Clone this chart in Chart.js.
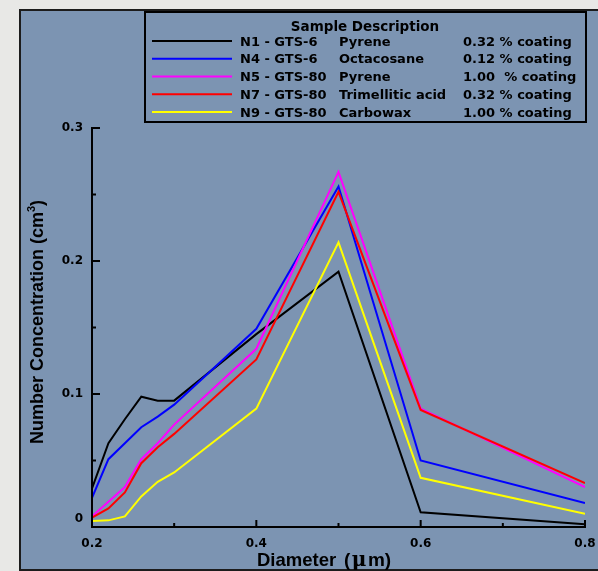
<!DOCTYPE html>
<html>
<head>
<meta charset="utf-8">
<script src="https://cdn.jsdelivr.net/npm/chart.js@4"></script>
<style>
  html, body { margin: 0; padding: 0; background: #e8e8e6; }
  #wrap { width: 598px; height: 571px; position: relative; }
</style>
</head>
<body>
<div id="wrap"><canvas id="c" width="598" height="571"></canvas></div>
<script>
// ---- data ----
const diameters = [0.2, 0.22, 0.24, 0.26, 0.28, 0.3, 0.4, 0.5, 0.6, 0.8];
const n1Pyrene      = [0.029, 0.063, 0.081, 0.098, 0.095, 0.095, 0.145, 0.192, 0.011, 0.002];
const n4Octacosane  = [0.022, 0.051, 0.063, 0.075, 0.083, 0.092, 0.149, 0.256, 0.050, 0.018];
const n5Pyrene      = [0.008, 0.019, 0.030, 0.051, 0.063, 0.077, 0.134, 0.267, 0.089, 0.030];
const n7Trimellitic = [0.007, 0.014, 0.026, 0.048, 0.060, 0.070, 0.126, 0.252, 0.088, 0.033];
const n9Carbowax    = [0.0045, 0.005, 0.008, 0.023, 0.034, 0.041, 0.089, 0.214, 0.037, 0.010];

const sampleIds    = ['N1 - GTS-6', 'N4 - GTS-6', 'N5 - GTS-80', 'N7 - GTS-80', 'N9 - GTS-80'];
const coatingNames = ['Pyrene', 'Octacosane', 'Pyrene', 'Trimellitic acid', 'Carbowax'];
const coatingLevels = ['0.32 % coating', '0.12 % coating', '1.00  % coating', '0.32 % coating', '1.00 % coating'];
const seriesColors = ['#000000', '#0000ff', '#ff00ff', '#ff0000', '#ffff00'];
const seriesValues = [n1Pyrene, n4Octacosane, n5Pyrene, n7Trimellitic, n9Carbowax];
const drawOrder = [4, 3, 2, 1, 0];

const xMajorTicks = [0.2, 0.4, 0.6, 0.8];
const xMinorTicks = [0.3, 0.5, 0.7];
const yMajorTicks = [0, 0.1, 0.2, 0.3];
const yMinorTicks = [0.05, 0.15, 0.25];

const legendTitle = 'Sample Description';
const xTitleMain = 'Diameter';
const xTitleParts = ['(', '\u03bc', 'm)'];
const yTitleMain = 'Number Concentration (cm';
const yTitleSup = '3';
const yTitleEnd = ')';

const datasets = seriesValues.map((vals, i) => ({
  label: sampleIds[i] + ' ' + coatingNames[i] + ' ' + coatingLevels[i],
  data: diameters.map((d, j) => ({ x: d, y: vals[j] })),
  borderColor: seriesColors[i],
  backgroundColor: seriesColors[i],
  borderWidth: 2,
  pointRadius: 0,
  tension: 0,
  fill: false,
  order: drawOrder[i]
}));

const PANEL = '#7c94b2';
const TICKFONT = 'bold 12px "DejaVu Sans"';

const decor = {
  id: 'decor',
  beforeDraw(chart) {
    const ctx = chart.ctx;
    ctx.save();
    ctx.fillStyle = '#e8e8e6';
    ctx.fillRect(0, 0, chart.width, chart.height);
    ctx.fillStyle = PANEL;
    ctx.fillRect(20, 10, chart.width - 20, chart.height - 11);
    ctx.strokeStyle = '#1c1c1c';
    ctx.lineWidth = 2;
    ctx.beginPath();
    ctx.moveTo(chart.width + 2, 10);
    ctx.lineTo(20, 10);
    ctx.lineTo(20, chart.height - 1);
    ctx.lineTo(chart.width + 2, chart.height - 1);
    ctx.stroke();
    ctx.restore();
  },
  afterDraw(chart) {
    const ctx = chart.ctx;
    const xs = chart.scales.x, ys = chart.scales.y;
    ctx.save();
    // axis lines
    ctx.strokeStyle = '#000';
    ctx.lineWidth = 2;
    ctx.beginPath();
    ctx.moveTo(xs.left, ys.getPixelForValue(0.3) - 1);
    ctx.lineTo(xs.left, ys.bottom);
    ctx.lineTo(xs.right + 1, ys.bottom);
    ctx.stroke();
    // ticks
    ctx.beginPath();
    yMajorTicks.forEach(v => { const p = ys.getPixelForValue(v); ctx.moveTo(xs.left, p); ctx.lineTo(xs.left + 8, p); });
    yMinorTicks.forEach(v => { const p = ys.getPixelForValue(v); ctx.moveTo(xs.left, p); ctx.lineTo(xs.left + 4, p); });
    xMajorTicks.forEach(v => { const p = xs.getPixelForValue(v); ctx.moveTo(p, ys.bottom); ctx.lineTo(p, ys.bottom - 7); });
    xMinorTicks.forEach(v => { const p = xs.getPixelForValue(v); ctx.moveTo(p, ys.bottom); ctx.lineTo(p, ys.bottom - 4); });
    ctx.stroke();
    // zero label on y (raised slightly like the reference)
    ctx.fillStyle = '#000';
    ctx.font = TICKFONT;
    ctx.textAlign = 'right';
    ctx.textBaseline = 'middle';
    ctx.fillText('0', xs.left - 9, ys.getPixelForValue(0) - 8);

    // axis titles
    ctx.textAlign = 'left';
    ctx.textBaseline = 'alphabetic';
    ctx.font = 'bold 18.5px "Liberation Sans"';
    ctx.fillText(xTitleMain, 257, 566);
    let ux = 344;
    const unitFonts = ['bold 19px "Liberation Sans"', 'bold 20px "DejaVu Serif"', 'bold 19px "Liberation Sans"'];
    xTitleParts.forEach((t, k) => {
      ctx.font = unitFonts[k];
      ctx.fillText(t, ux, 566);
      ux += ctx.measureText(t).width + 1.5;
    });

    ctx.save();
    ctx.translate(43, 322);
    ctx.rotate(-Math.PI / 2);
    ctx.font = 'bold 18px "Liberation Sans"';
    const w1 = ctx.measureText(yTitleMain).width;
    ctx.font = 'bold 11px "Liberation Sans"';
    const w2 = ctx.measureText(yTitleSup).width;
    ctx.font = 'bold 18px "Liberation Sans"';
    const w3 = ctx.measureText(yTitleEnd).width;
    let sx = -(w1 + w2 + w3) / 2;
    ctx.fillText(yTitleMain, sx, 0);
    ctx.font = 'bold 11px "Liberation Sans"';
    ctx.fillText(yTitleSup, sx + w1, -8);
    ctx.font = 'bold 18px "Liberation Sans"';
    ctx.fillText(yTitleEnd, sx + w1 + w2, 0);
    ctx.restore();

    // legend box
    ctx.fillStyle = PANEL;
    ctx.fillRect(145, 12, 441, 110);
    ctx.strokeStyle = '#000';
    ctx.lineWidth = 2;
    ctx.strokeRect(145, 12, 441, 110);
    ctx.fillStyle = '#000';
    ctx.font = 'bold 13.5px "DejaVu Sans"';
    ctx.textAlign = 'center';
    ctx.fillText(legendTitle, 365, 31);
    ctx.font = 'bold 13px "DejaVu Sans"';
    ctx.textAlign = 'left';
    for (let i = 0; i < sampleIds.length; i++) {
      const ly = 41 + i * 17.75;
      ctx.strokeStyle = seriesColors[i];
      ctx.lineWidth = 2;
      ctx.beginPath();
      ctx.moveTo(152, ly);
      ctx.lineTo(232, ly);
      ctx.stroke();
      ctx.fillStyle = '#000';
      ctx.fillText(sampleIds[i], 240, ly + 4.7);
      ctx.fillText(coatingNames[i], 339, ly + 4.7);
      ctx.fillText(coatingLevels[i], 463, ly + 4.7);
    }
    ctx.restore();
  }
};

new Chart(document.getElementById('c'), {
  type: 'line',
  data: { datasets },
  options: {
    responsive: false,
    animation: false,
    events: [],
    layout: { padding: { left: 20, top: 128, right: 13, bottom: 0 } },
    plugins: { legend: { display: false }, tooltip: { enabled: false }, title: { display: false } },
    scales: {
      x: {
        type: 'linear',
        min: 0.2, max: 0.8,
        grid: { display: false, drawTicks: false },
        border: { display: false },
        ticks: {
          stepSize: 0.1,
          padding: 10,
          color: '#000',
          font: { family: 'DejaVu Sans', weight: 'bold', size: 12 },
          maxRotation: 0,
          autoSkip: false,
          callback: (v) => {
            const r = Math.round(v * 10) / 10;
            return xMajorTicks.some(t => Math.abs(t - r) < 1e-6) ? r.toFixed(1) : '';
          }
        },
        afterFit: (s) => { s.height = 44; s.paddingLeft = 0; s.paddingRight = 0; }
      },
      y: {
        type: 'linear',
        min: 0, max: 0.3,
        grid: { display: false, drawTicks: false },
        border: { display: false },
        ticks: {
          stepSize: 0.05,
          padding: 9,
          color: '#000',
          font: { family: 'DejaVu Sans', weight: 'bold', size: 12 },
          autoSkip: false,
          callback: (v) => {
            const r = Math.round(v * 100) / 100;
            if (r === 0) return '';
            return yMajorTicks.some(t => Math.abs(t - r) < 1e-6) ? r.toFixed(1) : '';
          }
        },
        afterFit: (s) => { s.width = 72; s.paddingTop = 0; s.paddingBottom = 0; }
      }
    }
  },
  plugins: [decor]
});
</script>
</body>
</html>
